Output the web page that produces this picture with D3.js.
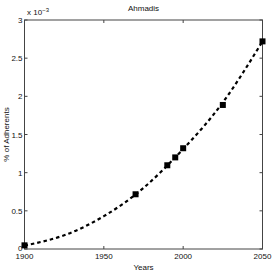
<!DOCTYPE html>
<html>
<head>
<meta charset="utf-8">
<script src="https://cdn.jsdelivr.net/npm/d3@7"></script>
<style>
  body { margin: 0; background: #fff; }
  svg { display: block; font-family: "Liberation Sans", Arial, sans-serif; }
</style>
</head>
<body>
<div id="chart"></div>
<script>
// observed points (percent, in units of 1e-3)
const years = [1900, 1970, 1990, 1995, 2000, 2025, 2050];
const values = [0.048, 0.717, 1.097, 1.2, 1.32, 1.887, 2.72];

// dashed trend curve
const fitYears = [1900, 1925, 1950, 1975, 2000, 2025, 2050];
const fitValues = [0.045, 0.18, 0.43, 0.8, 1.31, 1.92, 2.72];

const xTicks = [1900, 1950, 2000, 2050];
const yTicks = [0, 0.5, 1, 1.5, 2, 2.5, 3];

const W = 273, H = 273;
const m = { left: 24.5, right: 10.5, top: 20, bottom: 24 };

const svg = d3.select("#chart").append("svg")
  .attr("width", W).attr("height", H);

const x = d3.scaleLinear().domain([1900, 2050]).range([m.left, W - m.right]);
const y = d3.scaleLinear().domain([0, 3]).range([H - m.bottom, m.top]);

const axisColor = "#444";
const tickLen = 3;

// box
svg.append("rect")
  .attr("x", x(1900)).attr("y", y(3))
  .attr("width", x(2050) - x(1900)).attr("height", y(0) - y(3))
  .attr("fill", "none").attr("stroke", axisColor).attr("stroke-width", 1);

// x ticks (inside, bottom and top)
const xt = svg.append("g");
xTicks.forEach(t => {
  xt.append("line").attr("x1", x(t)).attr("x2", x(t))
    .attr("y1", y(0)).attr("y2", y(0) - tickLen)
    .attr("stroke", axisColor);
  xt.append("line").attr("x1", x(t)).attr("x2", x(t))
    .attr("y1", y(3)).attr("y2", y(3) + tickLen)
    .attr("stroke", axisColor);
  xt.append("text").attr("x", x(t)).attr("y", y(0) + 10)
    .attr("text-anchor", "middle").style("font-size", "8px")
    .attr("fill", "#111").text(t);
});

// y ticks (inside, left and right)
const yt = svg.append("g");
yTicks.forEach(t => {
  yt.append("line").attr("x1", x(1900)).attr("x2", x(1900) + tickLen)
    .attr("y1", y(t)).attr("y2", y(t)).attr("stroke", axisColor);
  yt.append("line").attr("x1", x(2050)).attr("x2", x(2050) - tickLen)
    .attr("y1", y(t)).attr("y2", y(t)).attr("stroke", axisColor);
  yt.append("text").attr("x", x(1900) - 2).attr("y", y(t) + (t === 0 ? 1.5 : 3))
    .attr("text-anchor", "end").style("font-size", "8px")
    .attr("fill", "#111").text(t);
});

// exponent label
const expo = svg.append("text").attr("x", x(1900) + 2.5).attr("y", y(3) - 5)
  .style("font-size", "8px").attr("fill", "#111");
expo.append("tspan").text("x 10");
expo.append("tspan").attr("dy", -3).style("font-size", "6px").text("\u22123");

// title and labels
svg.append("text").attr("x", (x(1900) + x(2050)) / 2).attr("y", 11)
  .attr("text-anchor", "middle").style("font-size", "8px")
  .attr("fill", "#111").text("Ahmadis");

svg.append("text").attr("x", (x(1900) + x(2050)) / 2).attr("y", 270)
  .attr("text-anchor", "middle").style("font-size", "8px")
  .attr("fill", "#111").text("Years");

svg.append("text")
  .attr("transform", `translate(8.5,${(y(0) + y(3)) / 2}) rotate(-90)`)
  .attr("text-anchor", "middle").style("font-size", "8px")
  .attr("fill", "#111").text("% of Adherents");

// dashed curve
const line = d3.line()
  .x(d => x(d[0]))
  .y(d => y(d[1]))
  .curve(d3.curveNatural);

svg.append("path")
  .datum(d3.zip(fitYears, fitValues))
  .attr("d", line)
  .attr("fill", "none")
  .attr("stroke", "#000")
  .attr("stroke-width", 2.2)
  .attr("stroke-dasharray", "3.5,3");

// markers
const ms = 6;
svg.selectAll("rect.pt")
  .data(d3.zip(years, values))
  .enter()
  .append("rect")
  .attr("class", "pt")
  .attr("x", d => x(d[0]) - ms / 2)
  .attr("y", d => y(d[1]) - ms / 2)
  .attr("width", ms).attr("height", ms)
  .attr("fill", "#000");
</script>
</body>
</html>
